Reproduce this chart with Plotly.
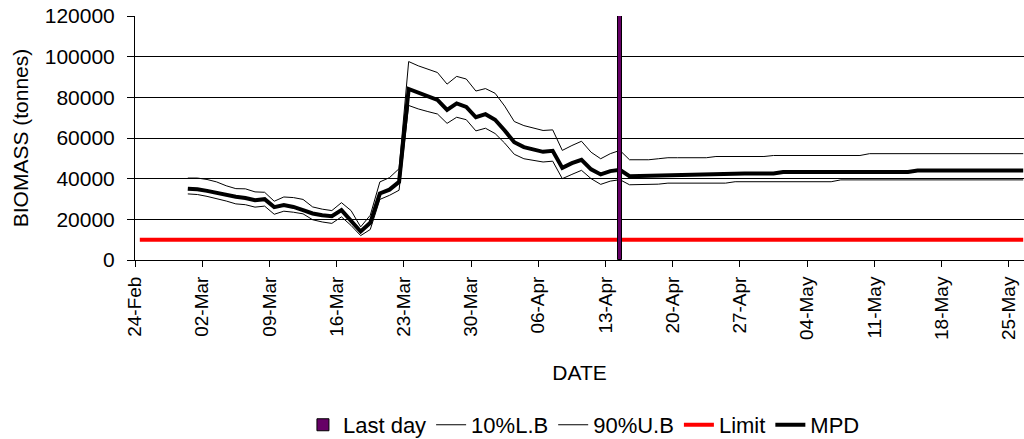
import pandas as pd
import plotly.graph_objects as go

# ---- data (daily values, 29-Feb to 26-May 2008) ----
START_DATE = "2008-02-29 12:00"
MPD = [35100, 34800, 34000, 33100, 31800, 31100, 30500, 29400, 29900, 26000,
       27000, 26100, 24500, 22900, 22000, 21500, 24500, 19600, 14000, 18300,
       32700, 34600, 38400, 84100, 82300, 80500, 78700, 73800, 77000, 75300,
       70200, 71700, 69000, 63700, 57900, 55500, 54200, 53200, 53700, 45300,
       47600, 49300, 44600, 42100, 43700, 44400, 41200, 41300, 41800,
       42000, 42000, 42000, 42000, 42000,
       42500, 42500, 42500, 42500, 42500, 42500, 42500, 42500,
       43300, 43300, 43300, 43300, 43300, 43300, 43300, 43300, 43300, 43300, 43300, 43300, 43300, 43300,
       44000, 44000, 44000, 44000, 44000, 44000, 44000, 44000, 44000, 44000, 44000, 44000]
UPPER_90 = [40300, 40300, 39600, 38400, 36500, 35100, 35000, 33500, 33300, 28900,
            31000, 30700, 29800, 26100, 25000, 24300, 28200, 24300, 16300, 22000,
            38400, 40500, 44900, 97600, 95500, 94000, 92200, 86500, 90300, 89000,
            83100, 84300, 82000, 75700, 68100, 66100, 65000, 63700, 64000, 53900,
            56300, 58400, 53000, 49800, 52300, 53900, 49300, 49300, 49300, 49800,
            50300, 50300, 50300, 50300, 50300,
            50900, 50900, 50900, 50900, 50900, 50900,
            51400, 51400, 51400, 51400, 51400, 51400, 51400, 51400, 51400, 51400,
            52300, 52300, 52300, 52300, 52300, 52300, 52300, 52300, 52300, 52300, 52300, 52300, 52300, 52300, 52300, 52300, 52300]
LOWER_10 = [32500, 32200, 31300, 30300, 29000, 27600, 27200, 26000, 26500, 22500,
            24000, 23500, 22700, 19800, 18700, 18000, 21200, 17000, 12000, 15000,
            29800, 31800, 34300, 76000, 74300, 73000, 71800, 67200, 70200, 69000,
            63500, 64800, 62200, 57500, 52000, 49800, 49000, 48200, 48600, 40000,
            42100, 44100, 40000, 37200, 38800, 39500, 37000, 37000, 37000, 37300,
            37800, 37800, 37800, 37800, 37800, 37800, 37800,
            38500, 38500, 38500, 38500, 38500, 38500, 38500, 38500, 38500, 38500, 38500,
            39400, 39400, 39400, 39400, 39400, 39400, 39400, 39400, 39400, 39400,
            39400, 39400, 39400, 39400, 39400, 39400, 39400, 39400, 39400, 39400]
LIMIT_VALUE = 10000
LIMIT_START, LIMIT_END = "2008-02-24 12:00", "2008-05-26 12:00"
LAST_DAY = ["2008-04-14 12:00"]
LAST_DAY_VALUE = [120000]
TICK_DATES = ["2008-02-24", "2008-03-02", "2008-03-09", "2008-03-16", "2008-03-23",
              "2008-03-30", "2008-04-06", "2008-04-13", "2008-04-20", "2008-04-27",
              "2008-05-04", "2008-05-11", "2008-05-18", "2008-05-25"]
TICK_TEXT = ["24-Feb", "02-Mar", "09-Mar", "16-Mar", "23-Mar", "30-Mar", "06-Apr",
             "13-Apr", "20-Apr", "27-Apr", "04-May", "11-May", "18-May", "25-May"]

dates = pd.date_range(START_DATE, periods=len(MPD), freq="D")
limit_dates = pd.date_range(LIMIT_START, LIMIT_END, freq="D")

FONT = "Liberation Sans, Arial, sans-serif"

fig = go.Figure()
fig.add_trace(go.Bar(x=LAST_DAY, y=LAST_DAY_VALUE, name="Last day", yaxis="y2",
                     width=0.5 * 86400000,
                     marker=dict(color="#660066", line=dict(color="black", width=1))))
fig.add_trace(go.Scatter(x=dates, y=LOWER_10, name="10%L.B", mode="lines",
                         line=dict(color="black", width=1)))
fig.add_trace(go.Scatter(x=dates, y=UPPER_90, name="90%U.B", mode="lines",
                         line=dict(color="black", width=1)))
fig.add_trace(go.Scatter(x=limit_dates, y=[LIMIT_VALUE] * len(limit_dates), name="Limit",
                         mode="lines", line=dict(color="#FF0000", width=4)))
fig.add_trace(go.Scatter(x=dates, y=MPD, name="MPD", mode="lines",
                         line=dict(color="black", width=4)))

fig.update_layout(
    width=1024, height=439,
    margin=dict(l=135, r=0, t=16, b=179, autoexpand=False),
    paper_bgcolor="white", plot_bgcolor="white",
    font=dict(family=FONT, size=21, color="black"),
    showlegend=True,
    legend=dict(orientation="h", x=0.505, xanchor="center",
                yref="container", y=0.032, yanchor="middle",
                font=dict(size=22), traceorder="normal", itemwidth=30,
                tracegroupgap=0),
    xaxis=dict(type="date", range=["2008-02-24", "2008-05-26 14:00"],
               tickvals=TICK_DATES, ticktext=TICK_TEXT, tickangle=-90,
               ticks="outside", ticklen=6, tickcolor="black",
               showline=True, linecolor="black", linewidth=1,
               showgrid=False, zeroline=False, automargin=False,
               tickfont=dict(size=19), ticklabelstandoff=2,
               title=dict(text="DATE", standoff=26, font=dict(size=21))),
    yaxis=dict(range=[0, 120000], dtick=20000, tickformat="d",
               ticks="outside", ticklen=7, tickcolor="black",
               showline=True, linecolor="black", linewidth=1,
               showgrid=True, gridcolor="black", gridwidth=1, zeroline=False,
               automargin=False, tickfont=dict(size=21), ticklabelstandoff=8,
               title=dict(text="BIOMASS (tonnes)", standoff=10, font=dict(size=21))),
    yaxis2=dict(range=[0, 120000], overlaying="y", visible=False),
    bargap=0,
)

fig.write_html("out.html", config={"displayModeBar": False},
               post_script="document.body.style.margin='0';document.body.style.overflow='hidden';")
